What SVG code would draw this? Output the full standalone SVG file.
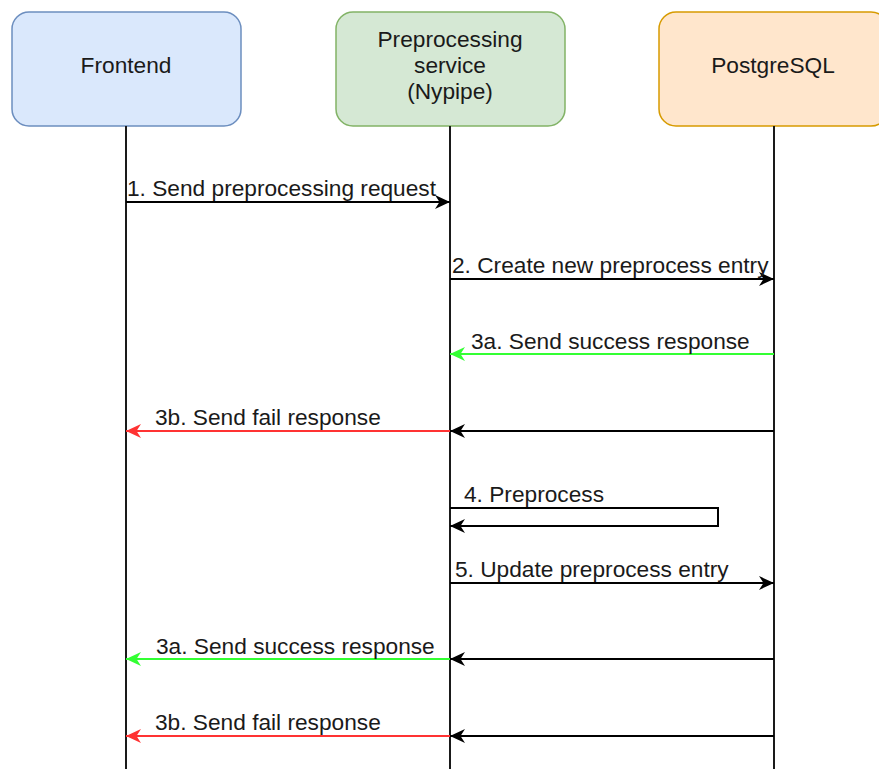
<svg xmlns="http://www.w3.org/2000/svg" width="879" height="769" viewBox="0 0 879 769">
<style>
text{font-family:"Liberation Sans",Arial,Helvetica,sans-serif;font-size:22.7px;fill:#1a1a1a}
.c{text-anchor:middle}
.life{stroke:#1a1a1a;stroke-width:2;fill:none}
.k{stroke:#000;stroke-width:2;fill:none}
.g{stroke:#33ff33;stroke-width:2;fill:none}
.r{stroke:#ff3333;stroke-width:2;fill:none}
</style>
<defs>
<marker id="ak" markerWidth="18" markerHeight="16" refX="15" refY="8" orient="auto" markerUnits="userSpaceOnUse"><path d="M0,1 L15,8 L0,15 L4.5,8 Z" fill="#000"/></marker>
<marker id="ag" markerWidth="18" markerHeight="16" refX="15" refY="8" orient="auto" markerUnits="userSpaceOnUse"><path d="M0,1 L15,8 L0,15 L4.5,8 Z" fill="#33ff33"/></marker>
<marker id="ar" markerWidth="18" markerHeight="16" refX="15" refY="8" orient="auto" markerUnits="userSpaceOnUse"><path d="M0,1 L15,8 L0,15 L4.5,8 Z" fill="#ff3333"/></marker>
</defs>
<rect width="879" height="769" fill="#fff"/>
<g id="frontend">
<rect x="12" y="12" width="229" height="114" rx="17" fill="#dae8fc" stroke="#6c8ebf" stroke-width="1.5"/>
<text class="c" x="126" y="73">Frontend</text>
<line class="life" x1="126" y1="126" x2="126" y2="769"/>
</g>
<g id="nypipe">
<rect x="336" y="12" width="229" height="114" rx="17" fill="#d5e8d4" stroke="#82b366" stroke-width="1.5"/>
<text class="c" x="450" y="47">Preprocessing</text>
<text class="c" x="450" y="73">service</text>
<text class="c" x="450" y="99">(Nypipe)</text>
<line class="life" x1="450" y1="126" x2="450" y2="769"/>
</g>
<g id="postgres">
<rect x="659" y="12" width="229" height="114" rx="17" fill="#ffe6cc" stroke="#d79b00" stroke-width="1.5"/>
<text class="c" x="773" y="73">PostgreSQL</text>
<line class="life" x1="774" y1="126" x2="774" y2="769"/>
</g>
<g id="connectors">
<line class="k" x1="126" y1="202" x2="450" y2="202" marker-end="url(#ak)"/>
<text x="127" y="196">1. Send preprocessing request</text>
<line class="k" x1="450" y1="279" x2="774" y2="279" marker-end="url(#ak)"/>
<text x="452" y="273">2. Create new preprocess entry</text>
<line class="g" x1="774" y1="354" x2="450" y2="354" marker-end="url(#ag)"/>
<text x="471" y="349">3a. Send success response</text>
<line class="k" x1="774" y1="431" x2="450" y2="431" marker-end="url(#ak)"/>
<line class="r" x1="450" y1="431" x2="126" y2="431" marker-end="url(#ar)"/>
<text x="155" y="425">3b. Send fail response</text>
<path class="k" d="M450,508 H718 V526 H450" marker-end="url(#ak)"/>
<text x="464" y="502">4. Preprocess</text>
<line class="k" x1="450" y1="583" x2="774" y2="583" marker-end="url(#ak)"/>
<text x="455" y="577">5. Update preprocess entry</text>
<line class="k" x1="774" y1="659" x2="450" y2="659" marker-end="url(#ak)"/>
<line class="g" x1="450" y1="659" x2="126" y2="659" marker-end="url(#ag)"/>
<text x="156" y="654">3a. Send success response</text>
<line class="k" x1="774" y1="736" x2="450" y2="736" marker-end="url(#ak)"/>
<line class="r" x1="450" y1="736" x2="126" y2="736" marker-end="url(#ar)"/>
<text x="155" y="730">3b. Send fail response</text>
</g>
</svg>
